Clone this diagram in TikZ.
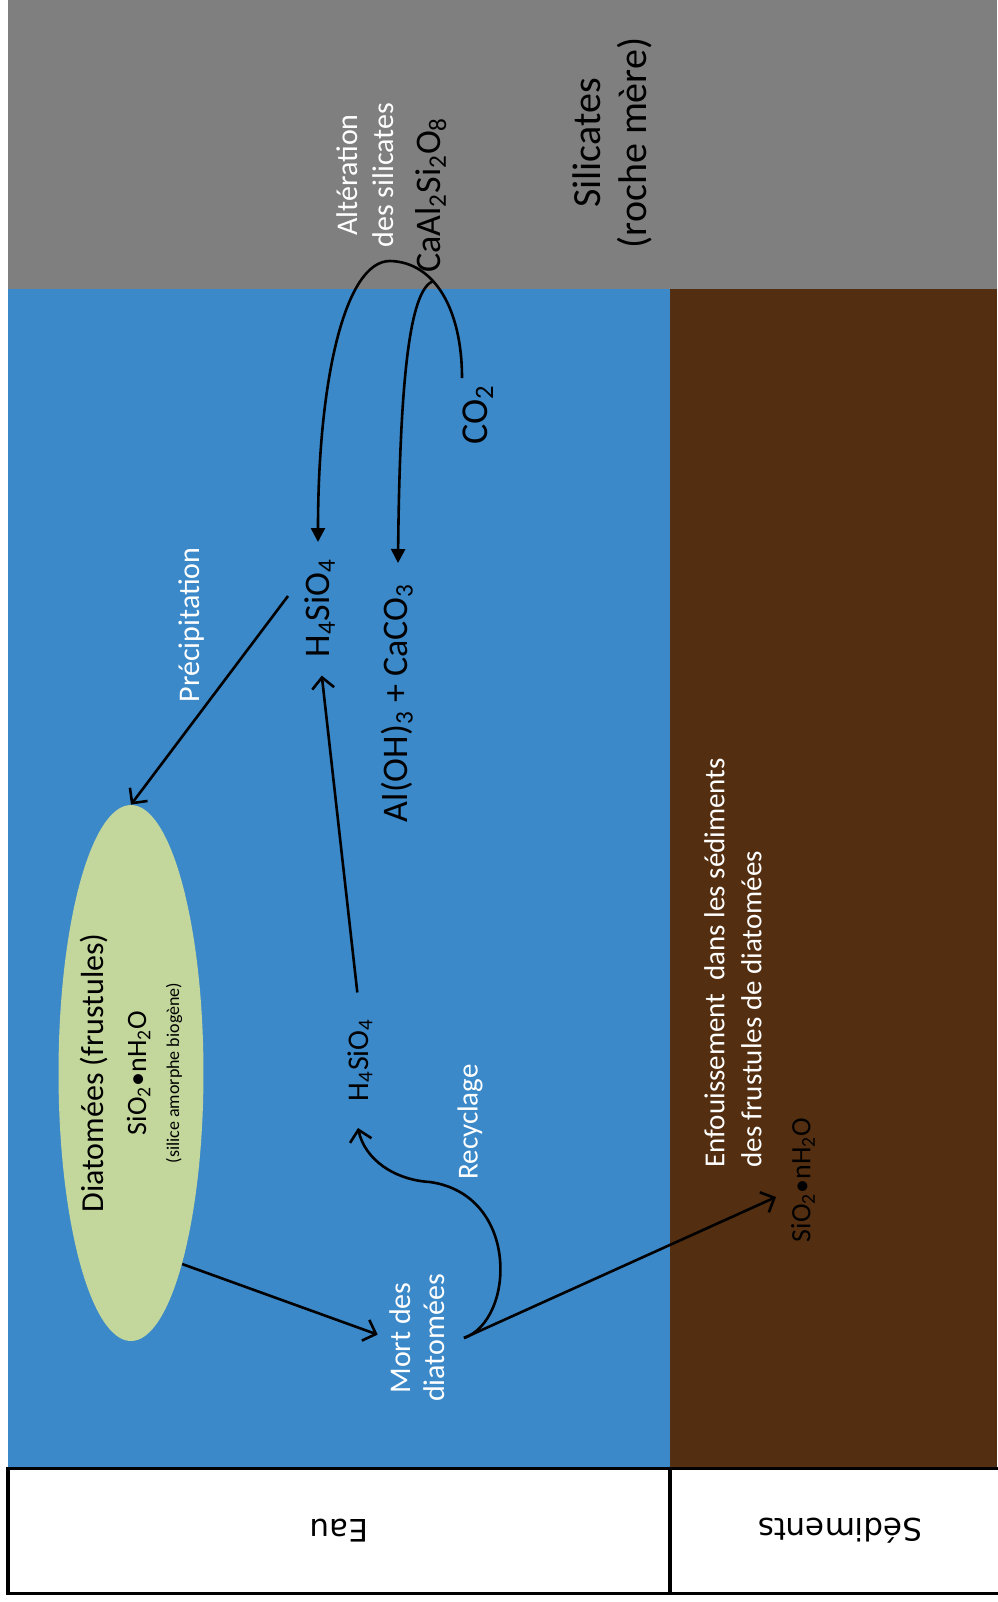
\documentclass[tikz,border=0pt]{standalone}
\usepackage{fontspec}
\setmainfont{Carlito}
\newfontfamily\dejavu{DejaVu Sans}
\usetikzlibrary{arrows.meta,shapes.geometric}
\definecolor{roche}{HTML}{7F7F7F}
\definecolor{eau}{HTML}{3B89C9}
\definecolor{sediment}{HTML}{532E10}
\definecolor{diatome}{HTML}{C3D69B}
\newcommand{\ind}[1]{\textsubscript{#1}}
\tikzset{
  lbl/.style={rotate=90, inner sep=1pt, align=center, font=\fontsize{15}{18}\selectfont},
  wlbl/.style={lbl, text=white},
  chem/.style={rotate=90, inner sep=1pt, font=\fontsize{18}{21}\selectfont},
  fl/.style={line width=1.3pt, -{Triangle[length=7pt,width=7pt]}},
  op/.style={line width=1.3pt, -{Straight Barb[length=5.5pt,width=11pt,line width=1.3pt]}},
  zone/.style={draw, line width=1.7pt, fill=white, rotate=180, minimum height=62.5pt, font=\fontsize{15.5}{18}\dejavu},
}
\begin{document}
\begin{tikzpicture}[x=0.5pt, y=-0.5pt]
\useasboundingbox (0,0) rectangle (997,1602);
% couches
\fill[roche] (8,0) rectangle (997,289);
\fill[eau] (8,289) rectangle (670,1467);
\fill[sediment] (670,289) rectangle (997,1467);
\node[zone, minimum width=331pt] (eaubox) at (339,1531) {Eau};
\node[zone, minimum width=170pt] (sedbox) at (840,1531) {Sédiments};
% textes
\node[lbl, font=\fontsize{20}{23}\selectfont] (sil) at (612,143) {Silicates\\(roche mère)};
\node[wlbl] (alt) at (365,175) {Altération\\des silicates};
\node[chem] (caal) at (431,195) {CaAl\ind{2}Si\ind{2}O\ind{8}};
\node[chem, font=\fontsize{19}{22}\selectfont] (co2) at (478,415) {CO\ind{2}};
\node[chem] (h4top) at (320,608) {H\ind{4}SiO\ind{4}};
\node[chem] (alcc) at (397,703) {Al(OH)\ind{3} + CaCO\ind{3}};
\node[wlbl] (prec) at (192,625) {Précipitation};
\node[ellipse, fill=diatome, rotate=90, minimum width=268pt, minimum height=68pt, inner sep=0pt, align=center, font=\fontsize{16}{19}\selectfont] (diat) at (131,1073) {Diatomées (frustules)\\[2.5pt]{\fontsize{14}{17}\selectfont SiO\ind{2}•nH\ind{2}O}\\[-2.5pt]{\fontsize{9}{11}\selectfont (silice amorphe biogène)}};
\node[chem, font=\fontsize{15}{18}\selectfont] (h4low) at (360,1060) {H\ind{4}SiO\ind{4}};
\node[wlbl, font=\fontsize{14.5}{17}\selectfont] (recy) at (470,1122) {Recyclage};
\node[wlbl, font=\fontsize{15}{17}\selectfont] (mort) at (417,1338) {Mort des\\diatomées};
\node[wlbl, align=left, anchor=west, font=\fontsize{14.5}{18.5}\selectfont] (enf) at (733,1170) {Enfouissement\ \ dans les sédiments\\des frustules de diatomées};
\node[chem, font=\fontsize{14}{17}\selectfont] (sedsi) at (803,1180) {SiO\ind{2}•nH\ind{2}O};
% fleches
\coordinate (co2in) at (462,378);
\coordinate (h4in) at (318,542);
\coordinate (alin) at (398,563);
\draw[fl] (co2in) .. controls (462,310) and (435,262) .. coordinate[pos=0.62] (jn) (390,261) .. controls (345,261) and (318,380) .. (h4in);
\draw[fl] (jn) .. controls (412,290) and (400,360) .. (alin);
\coordinate (precA) at (288,596);
\draw[op] (precA) -- (diat.east);
\draw[op, shorten <=12pt, shorten >=8pt] (h4low.east) -- (h4top.west);
\draw[op, shorten >=5pt] (diat.-165) -- (mort.north);
\coordinate (mortB) at (464,1338);
\coordinate (sedA) at (776,1197);
\coordinate (h4lowB) at (358,1128);
\draw[op] (mortB) -- (sedA);
\draw[op] (mortB) .. controls (515,1320) and (520,1195) .. (430,1182) .. controls (395,1180) and (365,1160) .. (h4lowB);
\end{tikzpicture}
\end{document}
